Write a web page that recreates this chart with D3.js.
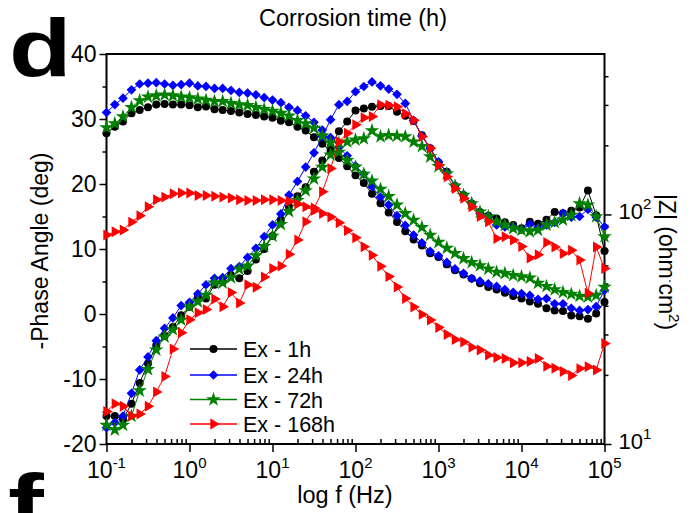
<!DOCTYPE html>
<html><head><meta charset="utf-8">
<script src="https://cdn.jsdelivr.net/npm/d3@7"></script>
<style>
body{margin:0;background:#fff}
svg{display:block}
text{font-family:"Liberation Sans",Arial,Helvetica,sans-serif;fill:#000}
</style>
</head><body>
<svg id="chart" width="697" height="513"></svg>
<script>
// ---------------- data ----------------
const freqs = [0.1,0.126,0.158,0.2,0.251,0.316,0.398,0.501,0.631,0.794,
  1,1.26,1.58,2,2.51,3.16,3.98,5.01,6.31,7.94,
  10,12.6,15.8,20,25.1,31.6,39.8,50.1,63.1,79.4,
  100,126,158,200,251,316,398,501,631,794,
  1000,1260,1580,2000,2510,3160,3980,5010,6310,7940,
  10000,12600,15800,20000,25100,31600,39800,50100,63100,79400,
  100000];

const seriesNames = ["Ex - 1h","Ex - 24h","Ex - 72h","Ex - 168h"];
const seriesColors = ["#000000","#0000ff","#008000","#ff0000"];

// -Phase angle (deg), left axis
const phase1h = [-15.7,-15.7,-16.2,-13.8,-10.6,-7.6,-4.8,-3.4,-2.0,-0.2,
  1.1,2.6,2.4,4.5,5.0,6.0,5.5,6.6,8.4,10.0,
  12.0,14.5,16.5,18.1,19.5,21.9,23.6,25.7,28.1,29.6,
  31.3,31.6,31.9,32.0,32.0,31.1,30.5,29.7,27.5,25.5,
  23.3,21.9,19.7,18.3,17.0,15.7,15.1,14.7,14.1,13.7,
  13.2,14.2,13.9,14.5,15.7,15.5,15.9,16.4,19.0,15.2,
  9.7];
const phase24h = [-17.5,-16.7,-15.7,-12.2,-8.6,-6.6,-4.1,-2.2,-0.6,1.3,
  1.8,3.1,4.5,5.5,5.6,7.0,7.3,8.7,10.1,11.9,
  13.7,15.4,18.3,20.4,22.6,24.8,27.3,29.9,32.2,32.7,
  34.2,35.0,35.7,35.1,34.6,33.8,32.4,29.8,27.4,25.5,
  23.4,21.7,19.8,18.3,17.0,15.5,15.0,13.7,13.4,13.4,
  13.0,13.8,13.2,13.7,14.1,15.5,14.9,15.0,16.1,14.9,
  13.4];
const phase72h = [-17.1,-17.8,-17.1,-15.7,-11.8,-8.5,-5.5,-3.5,-2.4,-0.9,
  1.1,1.9,2.9,4.8,4.8,5.6,6.9,7.4,9.0,10.4,
  12.0,13.8,15.8,17.5,19.0,20.8,22.6,24.5,26.3,26.5,
  26.8,27.0,28.2,27.3,27.5,27.4,27.3,26.5,25.8,24.2,
  22.7,21.6,19.7,18.3,17.0,15.7,15.0,14.2,13.7,13.2,
  12.9,12.7,12.9,13.7,14.1,14.5,15.2,17.0,16.8,15.0,
  11.9];
const phase168h = [-15.0,-13.8,-14.2,-15.7,-15.4,-14.2,-12.0,-9.6,-5.4,-2.9,
  -0.9,0.2,0.7,2.3,1.1,3.3,1.7,4.5,4.1,5.7,
  7.0,7.4,9.2,11.4,14.2,16.3,18.8,22.4,26.5,27.8,
  29.1,30.2,30.4,32.2,32.1,31.9,30.8,29.8,27.3,25.5,
  22.9,21.1,19.3,17.8,16.5,15.0,14.2,11.6,11.9,11.4,
  10.4,8.6,9.1,11.0,10.3,9.3,9.8,8.3,3.2,10.3,
  7.0];

// |Z| (ohm·cm2), right axis (log)
const z1h = [226,241,254,276,285,293,301,303,301,301,
  299,293,295,287,285,282,278,274,271,267,
  264,256,252,241,232,217,203,189,176,162,
  148,137,123,112,102,92.6,84.5,77.7,73.3,67.7,
  65.2,60.6,57.2,54.7,52.6,50.2,48.3,47.1,45.6,44.1,
  43.0,41.8,40.8,39.0,38.2,38.0,36.3,36.0,35.1,37.0,
  41.6];
const z24h = [278,301,321,349,370,373,375,370,365,368,
  373,363,361,354,354,347,340,338,332,323,
  315,307,293,284,269,252,233,216,196,180,
  163,150,132,119,110,98.8,89.6,81.3,75.2,69.1,
  66.0,61.8,57.9,55.4,52.6,51.2,49.9,48.6,47.1,45.8,
  45.2,44.4,42.7,43.0,40.8,40.8,39.0,38.2,38.5,39.7,
  46.8];
const z72h = [239,249,267,293,313,325,329,332,329,325,
  323,319,315,311,311,305,301,299,293,287,
  282,276,269,257,249,238,220,205,187,172,
  161,150,140,129,120,110,101,94.4,87.9,81.3,
  75.7,71.4,67.7,64.3,61.8,59.9,57.9,56.1,55.4,54.3,
  53.6,52.9,50.2,48.6,47.1,45.8,45.0,44.1,43.8,44.4,
  48.3];
const z168h = [81.3,84.0,85.6,92.6,98.8,108,116,119,123,124,
  124,121,121,120,119,118,116,115,115,116,
  116,115,114,111,108,104,101,97.5,92.0,85.1,
  79.2,72.3,66.4,59.5,53.6,48.3,43.0,39.5,36.7,34.7,
  32.2,30.0,28.5,27.8,26.4,25.7,24.4,23.8,23.6,22.6,
  22.6,22.9,23.6,21.8,21.4,20.7,19.9,21.3,21.7,21.0,
  27.4];

const phaseSeries = [phase1h, phase24h, phase72h, phase168h];
const zSeries = [z1h, z24h, z72h, z168h];

const phaseTicks = [-20,-10,0,10,20,30,40];
const phaseMinor = [-15,-5,5,15,25,35];
const freqTicks = [0.1,1,10,100,1000,10000,100000];
const freqExp = ["-1","0","1","2","3","4","5"];
const zTicks = [10,100];
const zExp = ["1","2"];
const zMinor = [20,30,40,50,60,70,80,90,200,300,400];

// ---------------- drawing ----------------
const svg = d3.select("#chart");
const L = 106.5, R = 604.5, T = 54, B = 444;

const x = d3.scaleLog().domain([0.1, 1e5]).range([L, R]);
const yP = d3.scaleLinear().domain([-20, 40]).range([B, T]);
const yZ = d3.scaleLog().domain([10, 500]).range([B, T]);

const freqMinor = [];
freqTicks.slice(0, -1).forEach(d => { for (let k = 2; k <= 9; k++) freqMinor.push(d * k); });

function styleAxis(g) {
  g.select(".domain").remove();
  g.selectAll(".tick line").attr("stroke", "#000").attr("stroke-width", 1.5);
}

// left axis
svg.append("g").attr("transform", `translate(${L},0)`)
  .call(d3.axisLeft(yP).tickValues(phaseTicks).tickSize(7).tickPadding(3).tickFormat(d => String(d)))
  .call(styleAxis)
  .call(g => g.selectAll("text").attr("font-size", 23).attr("font-family", "Liberation Sans, Arial, sans-serif").attr("fill", "#000"));
svg.append("g").attr("transform", `translate(${L},0)`)
  .call(d3.axisLeft(yP).tickValues(phaseMinor).tickSize(4).tickFormat(""))
  .call(styleAxis);

// right axis
svg.append("g").attr("transform", `translate(${R},0)`)
  .call(d3.axisRight(yZ).tickValues(zTicks).tickSize(7).tickFormat(""))
  .call(styleAxis);
svg.append("g").attr("transform", `translate(${R},0)`)
  .call(d3.axisRight(yZ).tickValues(zMinor).tickSize(4).tickFormat(""))
  .call(styleAxis);
zTicks.forEach((d, i) => {
  const t = svg.append("text").attr("x", R + 14).attr("y", yZ(d) + 5).attr("font-size", 22);
  t.append("tspan").text("10");
  t.append("tspan").attr("dy", -10).attr("font-size", 15).text(zExp[i]);
});

// bottom axis
svg.append("g").attr("transform", `translate(0,${B})`)
  .call(d3.axisBottom(x).tickValues(freqTicks).tickSize(8).tickFormat(""))
  .call(styleAxis);
svg.append("g").attr("transform", `translate(0,${B})`)
  .call(d3.axisBottom(x).tickValues(freqMinor).tickSizeInner(-5).tickSizeOuter(0).tickFormat(""))
  .call(styleAxis);
freqTicks.forEach((d, i) => {
  const t = svg.append("text").attr("x", x(d)).attr("y", 478).attr("font-size", 23).attr("text-anchor", "middle");
  t.append("tspan").text("10");
  t.append("tspan").attr("dy", -10).attr("font-size", 15).text(freqExp[i]);
});

// frame
svg.append("rect").attr("x", L).attr("y", T).attr("width", R - L).attr("height", B - T)
  .attr("fill", "none").attr("stroke", "#000").attr("stroke-width", 2);

// series
const symTypes = [d3.symbolCircle, d3.symbolDiamond2, d3.symbolStar, d3.symbolTriangle];
const symSizes = [50, 60, 66, 52];
const symRot = [0, 0, 0, 90];

function drawSeries(values, yScale, i) {
  const pts = values.map((v, k) => [x(freqs[k]), yScale(v)]);
  svg.append("path").attr("d", d3.line()(pts)).attr("fill", "none")
    .attr("stroke", seriesColors[i]).attr("stroke-width", 1);
  const sym = d3.symbol().type(symTypes[i]).size(symSizes[i]);
  svg.append("g").selectAll("path").data(pts).join("path")
    .attr("d", sym)
    .attr("transform", p => `translate(${p[0]},${p[1]}) rotate(${symRot[i]})`)
    .attr("fill", seriesColors[i]);
}
for (let i = 0; i < 4; i++) {
  drawSeries(zSeries[i], yZ, i);
  drawSeries(phaseSeries[i], yP, i);
}

// legend
const legY = [349, 375, 399.5, 424];
seriesNames.forEach((name, i) => {
  svg.append("line").attr("x1", 190).attr("x2", 237).attr("y1", legY[i]).attr("y2", legY[i])
    .attr("stroke", seriesColors[i]).attr("stroke-width", 1.5);
  svg.append("path").attr("d", d3.symbol().type(symTypes[i]).size(symSizes[i])())
    .attr("transform", `translate(213.5,${legY[i]}) rotate(${symRot[i]})`)
    .attr("fill", seriesColors[i]);
  svg.append("text").attr("x", 243).attr("y", legY[i] + 8).attr("font-size", 21.5).text(name);
});

// titles
svg.append("text").attr("x", 353).attr("y", 26).attr("text-anchor", "middle").attr("font-size", 23.5)
  .text("Corrosion time (h)");
svg.append("text").attr("x", 345).attr("y", 503).attr("text-anchor", "middle").attr("font-size", 23.5)
  .text("log f (Hz)");
svg.append("text").attr("transform", "translate(48,251) rotate(-90)").attr("text-anchor", "middle")
  .attr("font-size", 23).text("-Phase Angle (deg)");
const zt = svg.append("text").attr("transform", "translate(659,262) rotate(90)").attr("text-anchor", "middle")
  .attr("font-size", 23);
zt.append("tspan").text("|Z| (ohm");
zt.append("tspan").attr("dy", -7).attr("font-size", 14).text("·");
zt.append("tspan").attr("dy", 7).text("cm");
zt.append("tspan").attr("dy", -10).attr("font-size", 15).text("2");
zt.append("tspan").attr("dy", 10).text(")");

// panel letters
svg.append("text").attr("transform", "translate(9,76) scale(1.25,1)").attr("font-size", 82)
  .attr("font-weight", "bold").text("d");
svg.append("text").attr("transform", "translate(8,534) scale(1.25,1)").attr("font-size", 86)
  .attr("font-weight", "bold").text("f");
</script>
</body></html>
